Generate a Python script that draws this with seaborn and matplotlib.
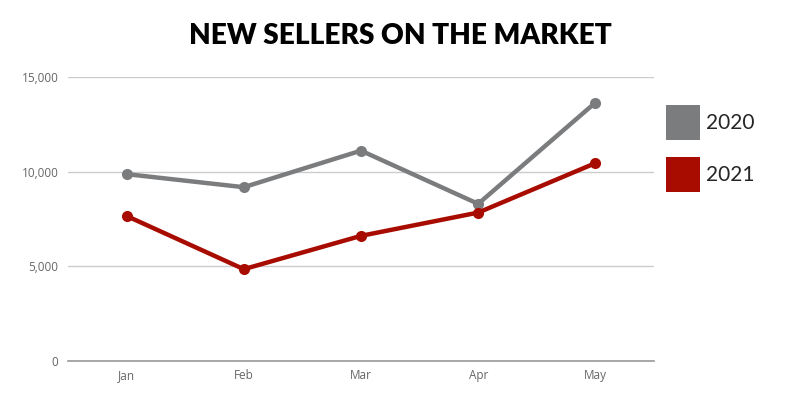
import matplotlib
matplotlib.use("Agg")
import matplotlib.pyplot as plt
from matplotlib.patches import Patch
from matplotlib.ticker import FuncFormatter
import seaborn as sns
import pandas as pd

months = ["Jan", "Feb", "Mar", "Apr", "May"]
sellers_2020 = [9870, 9180, 11110, 8300, 13650]
sellers_2021 = [7660, 4850, 6610, 7840, 10450]
years = ["2020", "2021"]
colors = {"2020": "#7b7c7e", "2021": "#a80c00"}
title = "NEW SELLERS ON THE MARKET"

df = pd.DataFrame({
    "month": months * 2,
    "value": sellers_2020 + sellers_2021,
    "year": [years[0]] * len(months) + [years[1]] * len(months),
})

sns.set_theme(style="white")
plt.rcParams["font.family"] = ["Open Sans", "DejaVu Sans"]

fig = plt.figure(figsize=(8, 4), dpi=100)
ax = fig.add_axes([0.085, 0.0975, 0.7325, 0.71])

sns.lineplot(data=df, x="month", y="value", hue="year", palette=colors,
             marker="o", markersize=8, markeredgewidth=0, linewidth=3.2,
             sort=False, ax=ax, legend=False)

ax.set_xlim(-0.5, len(months) - 0.5)
ax.set_ylim(0, 15000)
ax.set_yticks([0, 5000, 10000, 15000])
ax.yaxis.set_major_formatter(FuncFormatter(lambda v, p: f"{int(v):,}"))
ax.grid(axis="y", color="#cccccc", linewidth=1)
ax.grid(axis="x", visible=False)
for s in ["top", "right", "left"]:
    ax.spines[s].set_visible(False)
ax.spines["bottom"].set_color("#999999")
ax.spines["bottom"].set_linewidth(1.2)
ax.set_xlabel("")
ax.set_ylabel("")
ax.tick_params(axis="both", length=0, labelsize=8.5, labelcolor="#666666")
ax.tick_params(axis="y", pad=7)
ax.tick_params(axis="x", pad=6)

handles = [Patch(facecolor=colors[y], edgecolor="none", label=y) for y in years]
fig.legend(handles=handles, loc="upper left", bbox_to_anchor=(0.833, 0.738),
           frameon=False, handlelength=1.6, handleheight=2.2,
           labelspacing=0.85, handletextpad=0.3, borderaxespad=0,
           borderpad=0,
           prop={"family": ["Lato", "DejaVu Sans"], "size": 15})

fig.text(0.5, 0.91, title, ha="center", va="center", fontsize=20.2,
         fontweight="heavy", family=["Lato", "DejaVu Sans"], color="black")

fig.savefig("out.png", dpi=100, facecolor="white")
